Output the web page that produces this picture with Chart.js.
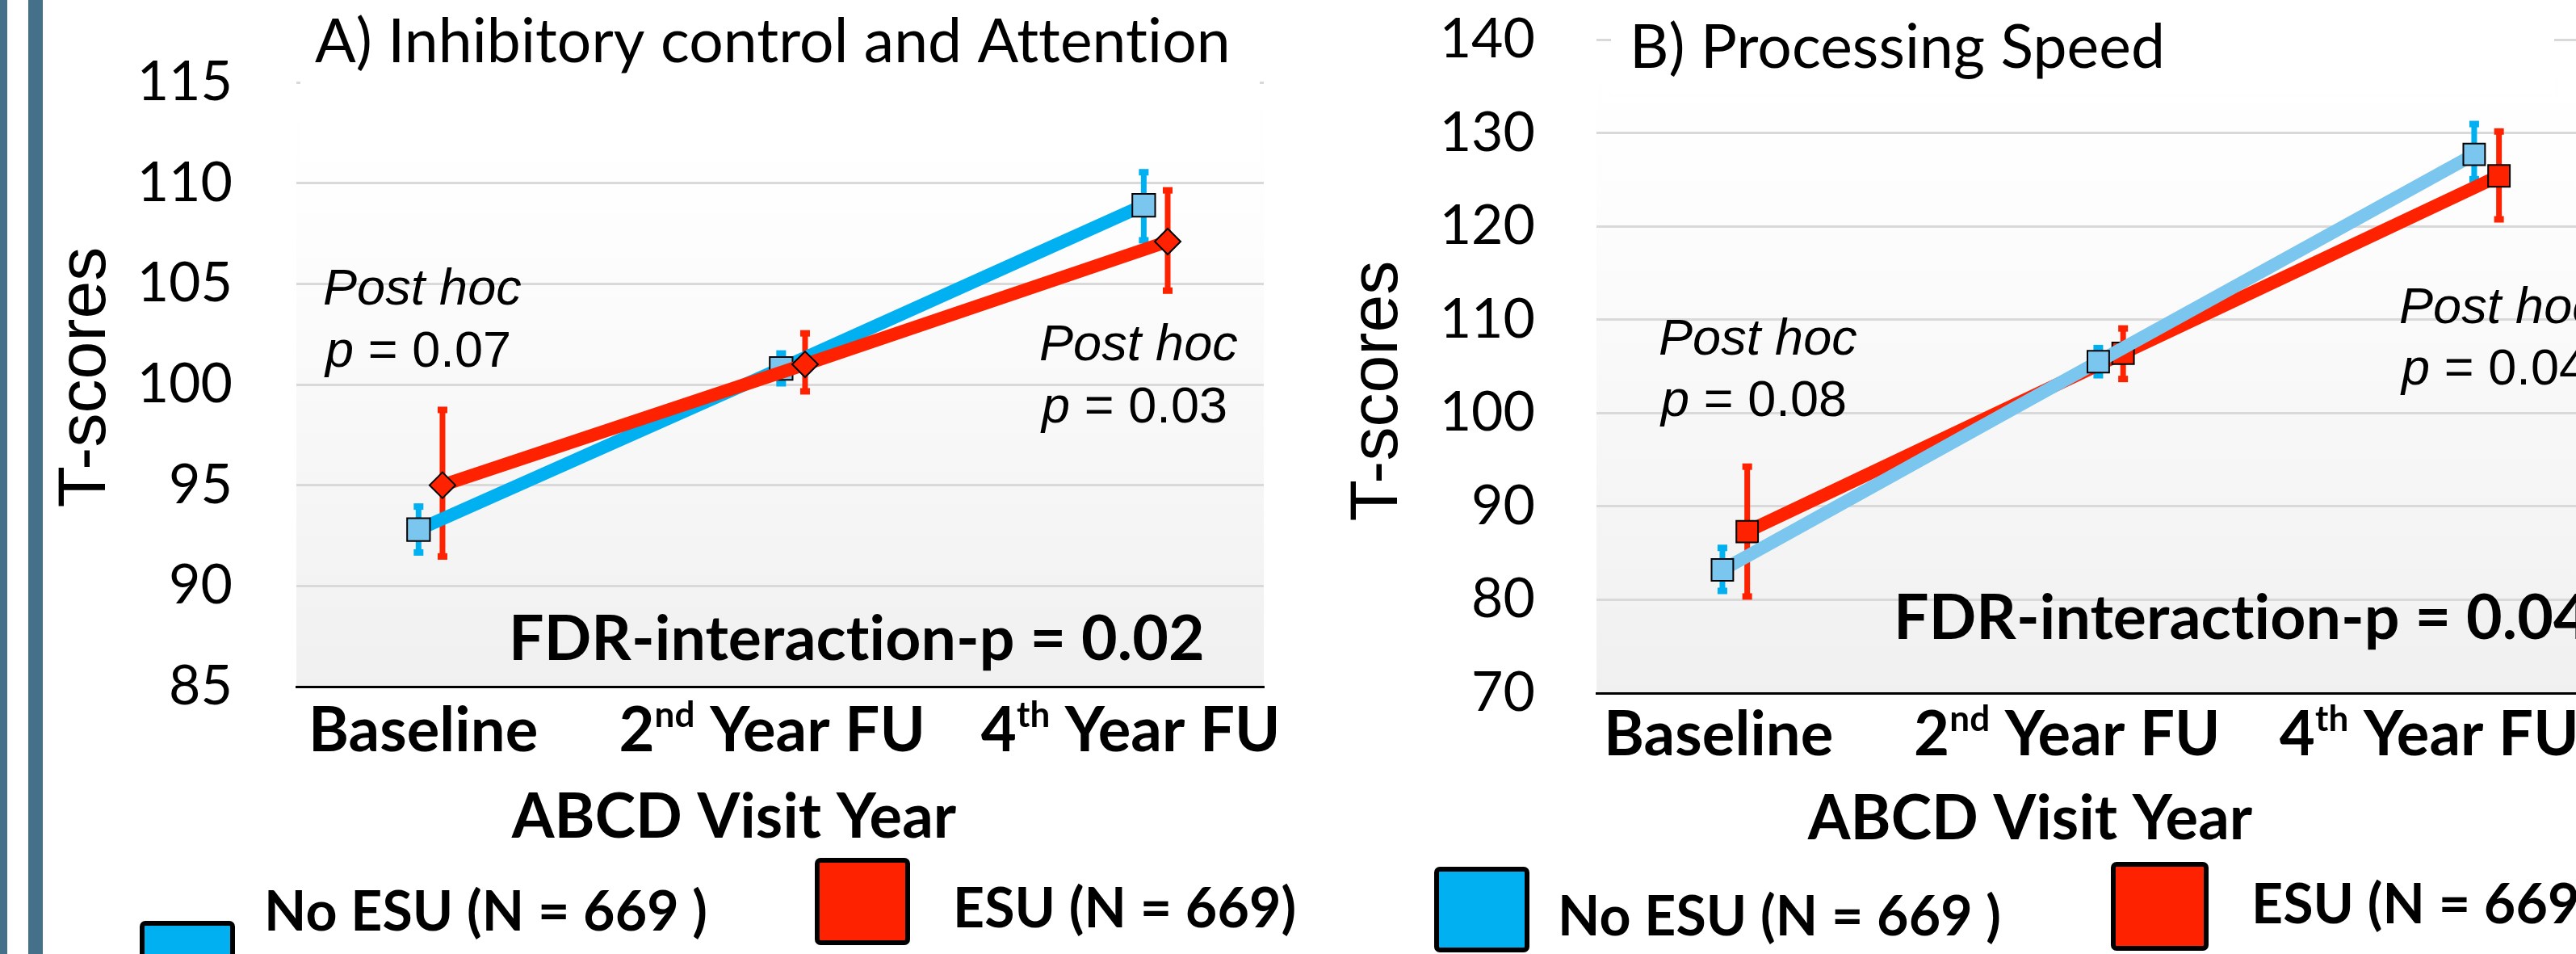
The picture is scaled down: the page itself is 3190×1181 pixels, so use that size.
<!DOCTYPE html>
<html>
<head>
<meta charset="utf-8">
<title>ESU and T-scores across ABCD visits</title>
<script src="https://cdn.jsdelivr.net/npm/chart.js@4.4.1/dist/chart.umd.min.js"></script>
<style>
  html, body { margin: 0; padding: 0; background: #fff; overflow: hidden; }
  body { width: 3190px; height: 1181px; position: relative; }
  .bar { position: absolute; top: 0; height: 1181px; background: #457089; }
  .panel { position: absolute; top: 0; width: 1620px; height: 1181px; }
</style>
</head>
<body>
<div class="panel" style="left:0"><canvas id="chartA"></canvas></div>
<div class="panel" style="left:1620px"><canvas id="chartB"></canvas></div>
<div class="bar" style="left:0;width:9px"></div>
<div class="bar" style="left:35px;width:18px"></div>
<script>
// visits on the x axis
var visits = ['Baseline', '2nd Year FU', '4th Year FU'];
var groups = ['No ESU (N = 669 )', 'ESU (N = 669)'];

// A) Inhibitory control and Attention
var inhibNoEsu = [92.8, 100.8, 108.9];
var inhibNoEsuLow = [91.5, 99.9, 107.0];
var inhibNoEsuHigh = [94.1, 101.7, 110.7];
var inhibEsu = [95.0, 101.0, 107.1];
var inhibEsuLow = [91.3, 99.5, 104.5];
var inhibEsuHigh = [98.9, 102.7, 109.8];
var inhibRange = [85, 115];
var inhibStep = 5;
var inhibPosthoc = ['0.07', '0.03'];
var inhibFdr = '0.02';

// B) Processing Speed
var speedNoEsu = [83.2, 105.5, 127.7];
var speedNoEsuLow = [80.6, 103.7, 124.7];
var speedNoEsuHigh = [85.9, 107.3, 131.3];
var speedEsu = [87.3, 106.4, 125.4];
var speedEsuLow = [80.0, 103.3, 120.4];
var speedEsuHigh = [94.6, 109.4, 130.5];
var speedRange = [70, 140];
var speedStep = 10;
var speedPosthoc = ['0.08', '0.04'];
var speedFdr = '0.04';

var CAL = 'Lato, "Open Sans", sans-serif';
var ARIAL = '"Liberation Sans", Arial, sans-serif';
var RED = '#FF2200';
var BLUE = '#00B0F0';
var BLUE_FILL = '#7AC6EE';
var shift = 0.033;

// plot area background: white to light grey
var bgGradient = {
  id: 'bgGradient',
  beforeDraw: function (chart) {
    var a = chart.chartArea, ctx = chart.ctx;
    var g = ctx.createLinearGradient(0, a.top, 0, a.bottom);
    g.addColorStop(0, '#ffffff');
    g.addColorStop(0.25, '#fdfdfd');
    g.addColorStop(1, '#f0f0f0');
    ctx.save();
    ctx.fillStyle = g;
    ctx.fillRect(a.left, a.top, a.right - a.left, a.bottom - a.top);
    ctx.restore();
  }
};

var errorBars = {
  id: 'errorBars',
  beforeDatasetsDraw: function (chart) {
    var ctx = chart.ctx, x = chart.scales.x, y = chart.scales.y;
    chart.data.datasets.forEach(function (ds) {
      ds.data.forEach(function (pt, i) {
        var px = x.getPixelForValue(pt.x);
        var top = y.getPixelForValue(ds.high[i]);
        var bot = y.getPixelForValue(ds.low[i]);
        ctx.save();
        ctx.strokeStyle = ds.errColor;
        ctx.fillStyle = ds.errColor;
        ctx.lineWidth = 7;
        ctx.beginPath();
        ctx.moveTo(px, top + 2);
        ctx.lineTo(px, bot - 2);
        ctx.stroke();
        ctx.fillRect(px - 6, top, 12, 8);
        ctx.fillRect(px - 6, bot - 8, 12, 8);
        ctx.restore();
      });
    });
  }
};

function richText(ctx, parts, x, y) {
  parts.forEach(function (p) {
    ctx.font = p.font;
    ctx.fillText(p.t, x, y - (p.up || 0));
    x += ctx.measureText(p.t).width;
  });
}
function richWidth(ctx, parts) {
  var w = 0;
  parts.forEach(function (p) { ctx.font = p.font; w += ctx.measureText(p.t).width; });
  return w;
}

function panelText(L) {
  return {
    id: 'panelText',
    beforeDatasetsDraw: function (chart) {
      var ctx = chart.ctx;
      ctx.save();
      ctx.fillStyle = '#ffffff';
      ctx.fillRect(L.titleBox[0], L.titleBox[1], L.titleBox[2], L.titleBox[3]);
      ctx.restore();
    },
    afterDraw: function (chart) {
      var ctx = chart.ctx, x = chart.scales.x;
      ctx.save();
      ctx.fillStyle = '#000';
      ctx.textBaseline = 'alphabetic';
      ctx.textAlign = 'left';
      ctx.letterSpacing = '0.1px'; // keeps Lato from joining "ti"

      ctx.font = '75px ' + CAL;
      ctx.fillText(L.title, L.titleX, L.titleY);

      // y axis title
      ctx.save();
      ctx.translate(L.yTitleX, L.yTitleY);
      ctx.rotate(-Math.PI / 2);
      ctx.textAlign = 'center';
      ctx.font = '84px ' + ARIAL;
      ctx.fillText('T-scores', 0, 0);
      ctx.restore();

      // category labels with ordinal superscripts
      var big = 'bold 76px ' + CAL, small = 'bold 44px ' + CAL;
      visits.forEach(function (v, i) {
        var m = v.match(/^(\d+)(st|nd|rd|th)(.*)$/);
        var parts = m ? [{t: m[1], font: big}, {t: m[2], font: small, up: 30}, {t: m[3], font: big}]
                      : [{t: v, font: big}];
        var cx = x.getPixelForValue(i) + L.tickShift[i];
        richText(ctx, parts, cx - richWidth(ctx, parts) / 2, L.tickY);
      });

      ctx.font = 'bold 76px ' + CAL;
      ctx.textAlign = 'center';
      ctx.fillText('ABCD Visit Year', L.xTitleX, L.xTitleY);
      ctx.textAlign = 'left';

      // post hoc notes
      L.notes.forEach(function (n, k) {
        ctx.font = 'italic 63px ' + ARIAL;
        ctx.fillText('Post hoc', n[0], n[1]);
        richText(ctx, [{t: 'p', font: 'italic 63px ' + ARIAL}, {t: ' = ' + L.posthoc[k], font: '63px ' + ARIAL}],
          n[0] + 3, n[1] + L.noteGap);
      });

      ctx.font = 'bold 77px ' + CAL;
      ctx.fillText('FDR-interaction-p = ' + L.fdr, L.fdrX, L.fdrY);

      // legend
      chart.data.datasets.forEach(function (ds, i) {
        var it = L.legend[i];
        ctx.beginPath();
        ctx.roundRect(it.box[0], it.box[1], it.box[2], it.box[3], 4);
        ctx.fillStyle = ds.legendColor;
        ctx.fill();
        ctx.lineWidth = 6;
        ctx.strokeStyle = '#000';
        ctx.stroke();
        ctx.fillStyle = '#000';
        ctx.font = 'bold 68px ' + CAL;
        ctx.fillText(ds.label, it.x, it.y);
      });
      ctx.restore();
    }
  };
}

function series(label, values, low, high, o) {
  return {
    label: label,
    data: values.map(function (v, i) { return {x: i + o.dx, y: v}; }),
    low: low,
    high: high,
    errColor: o.err,
    legendColor: o.legend,
    borderColor: o.line,
    borderWidth: 16,
    pointStyle: o.marker,
    pointRadius: o.radius,
    pointBackgroundColor: o.fill,
    pointBorderColor: '#000',
    pointBorderWidth: 2,
    order: o.order,
    tension: 0,
    fill: false
  };
}

function makeChart(id, datasets, range, step, L) {
  return new Chart(document.getElementById(id), {
    type: 'line',
    data: {datasets: datasets},
    plugins: [bgGradient, panelText(L), errorBars],
    options: {
      responsive: true,
      maintainAspectRatio: false,
      animation: false,
      events: [],
      devicePixelRatio: 1,
      layout: {padding: {top: L.area.top, right: 1620 - L.area.right, left: 0, bottom: 0}},
      plugins: {legend: {display: false}, tooltip: {enabled: false}},
      scales: {
        x: {
          type: 'linear',
          min: L.xRange[0],
          max: L.xRange[1],
          ticks: {display: false},
          grid: {color: 'rgba(0,0,0,0)', drawTicks: false},
          border: {display: true, color: '#000', width: 3},
          afterFit: function (s) { s.height = 1181 - L.area.bottom; }
        },
        y: {
          min: range[0],
          max: range[1],
          ticks: {stepSize: step, color: '#000', padding: L.tickPad, font: {family: CAL, size: 68}},
          grid: {color: '#d9d9d9', lineWidth: 3, drawTicks: false},
          border: {display: false},
          afterFit: function (s) {
            s.width = L.area.left;
            s.paddingTop = 0;
            s.paddingBottom = 0;
          }
        }
      }
    }
  });
}

makeChart('chartA', [
  series(groups[0], inhibNoEsu, inhibNoEsuLow, inhibNoEsuHigh,
    {dx: -shift, line: BLUE, fill: BLUE_FILL, err: BLUE, legend: BLUE, marker: 'rect', radius: 20, order: 1}),
  series(groups[1], inhibEsu, inhibEsuLow, inhibEsuHigh,
    {dx: shift, line: RED, fill: RED, err: RED, legend: RED, marker: 'rectRot', radius: 16, order: 0})
], inhibRange, inhibStep, {
  area: {left: 367, right: 1565, top: 102, bottom: 850},
  xRange: [-0.37, 2.298],
  tickPad: 79,
  titleBox: [372, 0, 1188, 200],
  title: 'A) Inhibitory control and Attention', titleX: 390, titleY: 77,
  yTitleX: 130, yTitleY: 467,
  tickY: 930, tickShift: [-9, -26, -31],
  xTitleX: 909, xTitleY: 1037,
  notes: [[400, 377], [1287, 446]], noteGap: 77, posthoc: inhibPosthoc,
  fdr: inhibFdr, fdrX: 630, fdrY: 817,
  legend: [{box: [176, 1143, 112, 102], x: 327, y: 1152}, {box: [1012, 1065, 112, 102], x: 1180, y: 1148}]
});

makeChart('chartB', [
  series(groups[0], speedNoEsu, speedNoEsuLow, speedNoEsuHigh,
    {dx: -shift, line: BLUE_FILL, fill: BLUE_FILL, err: BLUE, legend: BLUE, marker: 'rect', radius: 19, order: 0}),
  series(groups[1], speedEsu, speedEsuLow, speedEsuHigh,
    {dx: shift, line: RED, fill: RED, err: RED, legend: RED, marker: 'rect', radius: 19, order: 1})
], speedRange, speedStep, {
  area: {left: 357, right: 1598, top: 49, bottom: 858},
  xRange: [-0.368, 2.298],
  tickPad: 76,
  titleBox: [375, 0, 1168, 117],
  title: 'B) Processing Speed', titleX: 398, titleY: 84,
  yTitleX: 110, yTitleY: 484,
  tickY: 935, tickShift: [-20, -54, -71],
  xTitleX: 894, xTitleY: 1039,
  notes: [[434, 439], [1351, 400]], noteGap: 76, posthoc: speedPosthoc,
  fdr: speedFdr, fdrX: 725, fdrY: 791,
  legend: [{box: [159, 1076, 112, 100], x: 309, y: 1158}, {box: [997, 1070, 115, 104], x: 1168, y: 1143}]
});
</script>
</body>
</html>
